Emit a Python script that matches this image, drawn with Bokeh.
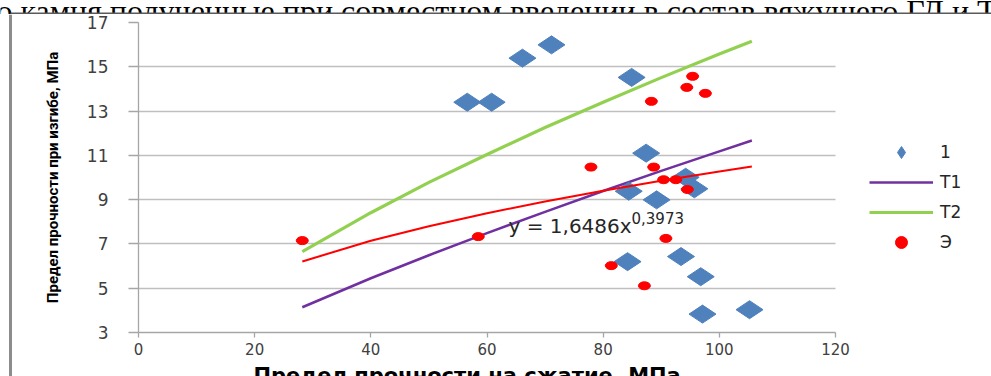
import math
from bokeh.plotting import figure
from bokeh.layouts import column, row
from bokeh.models import Range1d, Legend, LegendItem, Label, FixedTicker, BoxAnnotation
from bokeh.core.properties import value
from bokeh.embed import file_html
from bokeh.resources import INLINE

# ---- data ----
x_ticks = [0, 20, 40, 60, 80, 100, 120]
y_ticks = [3, 5, 7, 9, 11, 13, 15, 17]

s1_x = [56.6, 60.8, 66.1, 71.1, 84.9, 87.4, 94.2, 84.4, 95.7, 89.2, 93.4, 84.2, 96.8, 97.1, 105.2]
s1_y = [13.40, 13.40, 15.39, 15.99, 14.52, 11.10, 10.01, 9.38, 9.49, 8.99, 6.43, 6.20, 5.52, 3.83, 4.03]

e_x = [28.2, 58.5, 77.9, 81.4, 87.1, 88.3, 88.7, 90.4, 90.8, 92.5, 94.4, 94.5, 95.4, 97.6]
e_y = [7.15, 7.33, 10.47, 6.02, 5.11, 13.44, 10.47, 9.90, 7.25, 9.90, 14.07, 9.46, 14.57, 13.80]

t_x = [28.2, 40, 50, 60, 70, 80, 90, 100, 105.6]
t1_y = [4.14, 5.45, 6.49, 7.49, 8.45, 9.39, 10.30, 11.18, 11.67]
t2_y = [6.65, 8.41, 9.78, 11.04, 12.26, 13.40, 14.51, 15.58, 16.15]
trend_y = [6.21, 7.14, 7.80, 8.39, 8.92, 9.40, 9.85, 10.27, 10.50]

legend_labels = ["1", "Т1", "Т2", "Э"]
equation_main = "y = 1,6486x"
equation_exp = "0,3973"
x_title = "Предел прочности на сжатие, МПа"
y_title = "Предел прочности при изгибе, МПа"
top_text = "о камня полученные при совместном введении в состав вяжущего ГД и Т"

X_MIN, X_MAX = 0, 120
Y_MIN, Y_MAX = 3, 17


def blank(width, height, x0=0, x1=None):
    f = figure(width=width, height=height, output_backend="svg", toolbar_location=None,
               x_range=Range1d(x0, width if x1 is None else x1), y_range=Range1d(height, 0),
               x_axis_type=None, y_axis_type=None, min_border=0)
    f.outline_line_color = None
    f.background_fill_color = "white"
    f.border_fill_color = "white"
    f.grid.visible = False
    return f


# ---- strip above the chart: clipped line of document text and the chart's top border ----
top = blank(991, 14)
top.text(x=[-4], y=[10], text=[top_text], text_font=value("Liberation Serif"),
         text_font_size="32px", text_color="black", text_baseline="alphabetic")
top.segment(x0=[10], y0=[13], x1=[991], y1=[13], line_color="#5A5A5A", line_width=2)

# ---- left strip: chart's left border ----
left = blank(12, 362)
left.segment(x0=[10], y0=[0], x1=[10], y1=[362], line_color="#8C8C8C", line_width=3)

# ---- main chart: the frame runs to the right edge so that the legend can sit in it ----
PX_PER_UNIT = 697 / (X_MAX - X_MIN)
x_end = X_MAX + 156 / PX_PER_UNIT
p = figure(width=979, height=346, output_backend="svg", toolbar_location=None,
           x_range=Range1d(X_MIN, x_end), y_range=Range1d(Y_MIN, Y_MAX),
           min_border_left=126, min_border_right=0, min_border_top=8, min_border_bottom=28)
p.outline_line_color = None
p.background_fill_color = "white"
p.border_fill_color = "white"
p.xgrid.visible = False
p.ygrid.grid_line_color = "#BFBFBF"
p.ygrid.grid_line_width = 1.3

p.xaxis.ticker = FixedTicker(ticks=x_ticks)
p.yaxis.ticker = FixedTicker(ticks=y_ticks)
p.xaxis.bounds = (X_MIN, X_MAX)
for ax in (p.xaxis, p.yaxis):
    ax.axis_line_color = "#A6A6A6"
    ax.axis_line_width = 1.3
    ax.major_tick_line_color = "#A6A6A6"
    ax.major_tick_line_width = 1.3
    ax.minor_tick_line_color = None
    ax.major_tick_in = 0
    ax.major_label_text_font = "DejaVu Sans"
    ax.major_label_text_color = "#404040"
p.yaxis.major_label_text_font_size = "17px"
p.xaxis.major_label_text_font_size = "15px"
p.yaxis.major_tick_out = 10
p.xaxis.major_tick_out = 5
p.yaxis.major_label_standoff = 20
p.xaxis.major_label_standoff = 5

p.yaxis.axis_label = y_title
p.yaxis.axis_label_text_font = "Roboto"
p.yaxis.axis_label_text_font_style = "bold"
p.yaxis.axis_label_text_font_size = "15px"
p.yaxis.axis_label_text_color = "black"
p.yaxis.axis_label_standoff = 22

# white area right of the plot area hides the grid lines there (legend sits on it)
p.add_layout(BoxAnnotation(left=X_MAX, fill_color="white", fill_alpha=1, line_color=None,
                           level="underlay"))

r_t2 = p.line(t_x, t2_y, line_color="#92D050", line_width=3.2)
r_t1 = p.line(t_x, t1_y, line_color="#7030A0", line_width=2.5)
r_1 = p.scatter(s1_x, s1_y, marker="diamond", size=27, angle=math.pi / 2,
                fill_color="#4F81BD", line_color="#4F81BD")
r_e_key = p.scatter(e_x, e_y, marker="circle", size=6, fill_color="#FF0000", line_color="#FF0000")
r_e = p.ellipse(e_x, e_y, width=12, height=8, width_units="screen", height_units="screen",
                fill_color="#FF0000", line_color="#FF0000")
r_tr = p.line(t_x, trend_y, line_color="#FF0000", line_width=2)

legend = Legend(items=[LegendItem(label=legend_labels[0], renderers=[r_1]),
                       LegendItem(label=legend_labels[1], renderers=[r_t1]),
                       LegendItem(label=legend_labels[2], renderers=[r_t2]),
                       LegendItem(label=legend_labels[3], renderers=[r_e_key])],
                location=(731, 75), glyph_width=64, glyph_height=30, spacing=0,
                label_standoff=7, padding=0, margin=0, border_line_color=None,
                background_fill_alpha=0, label_text_font="DejaVu Sans",
                label_text_font_size="17px", label_text_color="#262626")
p.add_layout(legend)

p.add_layout(Label(x=63.7, y=7.83, text=equation_main, text_font="DejaVu Sans",
                   text_font_size="20px", text_color="#262626", text_baseline="alphabetic"))
p.add_layout(Label(x=63.7, y=7.83, x_offset=123, y_offset=8, text=equation_exp,
                   text_font="DejaVu Sans", text_font_size="15px", text_color="#262626",
                   text_baseline="alphabetic"))

# ---- strip below: x axis title (its frame is aligned with the chart's, page x 138..991) ----
bottom = blank(979, 16, x0=138, x1=991)
bottom.text(x=[253], y=[15.3], text=[x_title], text_font=value("DejaVu Sans"),
            text_font_style="bold", text_font_size="21px", text_color="black",
            text_align="left", text_baseline="alphabetic")

layout = column(top, row(left, column(p, bottom)))
open("out.html", "w").write(file_html(layout, INLINE))
